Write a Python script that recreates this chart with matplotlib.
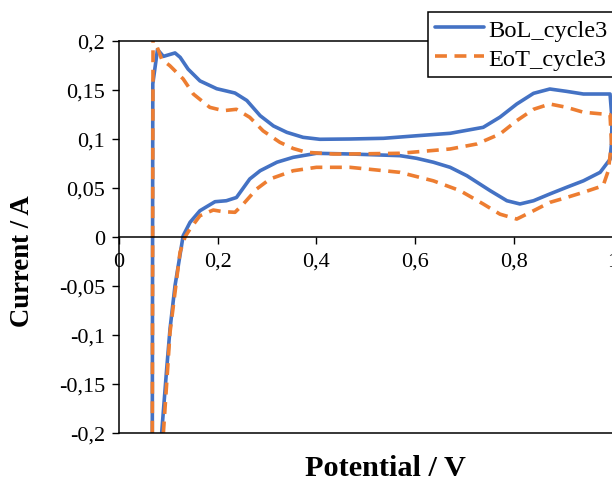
import matplotlib
matplotlib.use("Agg")
import matplotlib.pyplot as plt
from matplotlib.ticker import FuncFormatter

# ---- data ----
bol_x = [0.0675, 0.0685, 0.078, 0.090, 0.1135, 0.124, 0.140, 0.164, 0.198, 0.215, 0.235, 0.259,
         0.286, 0.313, 0.340, 0.373, 0.407, 0.468, 0.536, 0.603, 0.671, 0.738, 0.772, 0.806,
         0.840, 0.873, 0.907, 0.941, 0.995, 0.999, 0.998, 0.995, 0.975, 0.941, 0.907, 0.873,
         0.840, 0.8125, 0.786, 0.752, 0.705, 0.671, 0.637, 0.603, 0.569, 0.468, 0.400, 0.353,
         0.320, 0.286, 0.265, 0.238, 0.2175, 0.1945, 0.164, 0.144, 0.130, 0.1135, 0.1034,
         0.0966, 0.0865]
bol_y = [-0.2, 0.156, 0.191, 0.184, 0.1875, 0.183, 0.171, 0.159, 0.151, 0.149, 0.1466, 0.139,
         0.1235, 0.113, 0.1065, 0.1014, 0.0994, 0.0997, 0.1004, 0.103, 0.1055, 0.1116, 0.122,
         0.1354, 0.1463, 0.1507, 0.1483, 0.1456, 0.1456, 0.120, 0.095, 0.079, 0.0657, 0.057,
         0.0504, 0.0436, 0.0367, 0.0334, 0.0367, 0.047, 0.0622, 0.0708, 0.076, 0.080, 0.0827,
         0.0844, 0.0851, 0.081, 0.076, 0.0673, 0.0589, 0.040, 0.0367, 0.0357, 0.0265, 0.0147,
         0.001, -0.05, -0.094, -0.135, -0.2]

eot_x = [0.0675, 0.069, 0.0865, 0.103, 0.130, 0.1506, 0.184, 0.2115, 0.238, 0.265, 0.292, 0.326,
         0.353, 0.380, 0.434, 0.468, 0.569, 0.671, 0.725, 0.772, 0.806, 0.840, 0.873, 0.907,
         0.941, 0.995, 0.998, 0.9915, 0.981, 0.941, 0.907, 0.873, 0.840, 0.806, 0.772, 0.738,
         0.691, 0.637, 0.569, 0.468, 0.400, 0.353, 0.306, 0.279, 0.252, 0.235, 0.2115, 0.191,
         0.164, 0.144, 0.134, 0.1236, 0.1034, 0.090]
eot_y = [-0.2, 0.205, 0.181, 0.1745, 0.161, 0.1456, 0.132, 0.1286, 0.130, 0.1218, 0.108, 0.0963,
         0.090, 0.0861, 0.0844, 0.0844, 0.0851, 0.0895, 0.0946, 0.1048, 0.1184, 0.130, 0.1354,
         0.132, 0.127, 0.1245, 0.095, 0.0674, 0.052, 0.0453, 0.040, 0.035, 0.0265, 0.018, 0.023,
         0.0334, 0.047, 0.057, 0.0657, 0.0708, 0.0708, 0.0673, 0.0589, 0.0487, 0.0334, 0.0249,
         0.0255, 0.0272, 0.0214, 0.0079, 0.0, -0.016, -0.0976, -0.2]

series_labels = ["BoL_cycle3", "EoT_cycle3"]
x_ticks = [0, 0.2, 0.4, 0.6, 0.8, 1.0]
y_ticks = [-0.2, -0.15, -0.1, -0.05, 0, 0.05, 0.1, 0.15, 0.2]
x_label = "Potential / V"
y_label = "Current / A"

# ---- figure ----
plt.rcParams['font.family'] = ['Liberation Serif', 'DejaVu Serif']
W, H = 612, 485
fig = plt.figure(figsize=(W / 100, H / 100), dpi=100)
ax = fig.add_axes([119 / W, 1 - 433.7 / H, (612.5 - 119) / W, (433.7 - 41.7) / H])

blue = "#4472C4"
orange = "#ED7D31"
ax.plot(bol_x, bol_y, color=blue, lw=2.6, solid_joinstyle='round', solid_capstyle='round',
        label=series_labels[0])
ax.plot(eot_x, eot_y, color=orange, lw=2.6, linestyle=(0, (3.3, 2.1)),
        dash_capstyle='butt', dash_joinstyle='round', label=series_labels[1])

ax.set_xlim(0, 1.0)
ax.set_ylim(-0.2, 0.2)
ax.set_xticks(x_ticks)
ax.set_yticks(y_ticks)

def comma_fmt(v, pos=None):
    s = f"{v:.2f}".rstrip('0').rstrip('.')
    if s in ("-0", "0"):
        s = "0"
    return s.replace('.', ',')

ax.xaxis.set_major_formatter(FuncFormatter(comma_fmt))
ax.yaxis.set_major_formatter(FuncFormatter(comma_fmt))

for sp in ax.spines.values():
    sp.set_linewidth(1.1)
    sp.set_color('black')
ax.spines['right'].set_visible(False)
ax.spines['bottom'].set_position(('data', 0))
ax.axhline(-0.2, color='black', lw=1.1, clip_on=False, zorder=3)

ax.tick_params(axis='both', direction='out', length=5, width=1.0, labelsize=16, colors='black')
ax.tick_params(axis='y', pad=5)
ax.tick_params(axis='x', pad=6)

fig.text(385 / W, 1 - 469 / H, x_label, ha='center', va='center', fontsize=21.8, fontweight='bold')
fig.text(23 / W, 1 - 261 / H, y_label, ha='center', va='center', fontsize=19.3,
         fontweight='bold', rotation=90)

leg = ax.legend(loc='upper left', bbox_to_anchor=(428 / W, 1 - 13 / H),
                bbox_transform=fig.transFigure, fontsize=17.6, frameon=True, fancybox=False,
                framealpha=1, edgecolor='black', handlelength=2.0, handletextpad=0.2,
                borderpad=0.28, labelspacing=0.28, borderaxespad=0)
leg.get_frame().set_linewidth(1.1)

fig.savefig("out.png", dpi=100)
